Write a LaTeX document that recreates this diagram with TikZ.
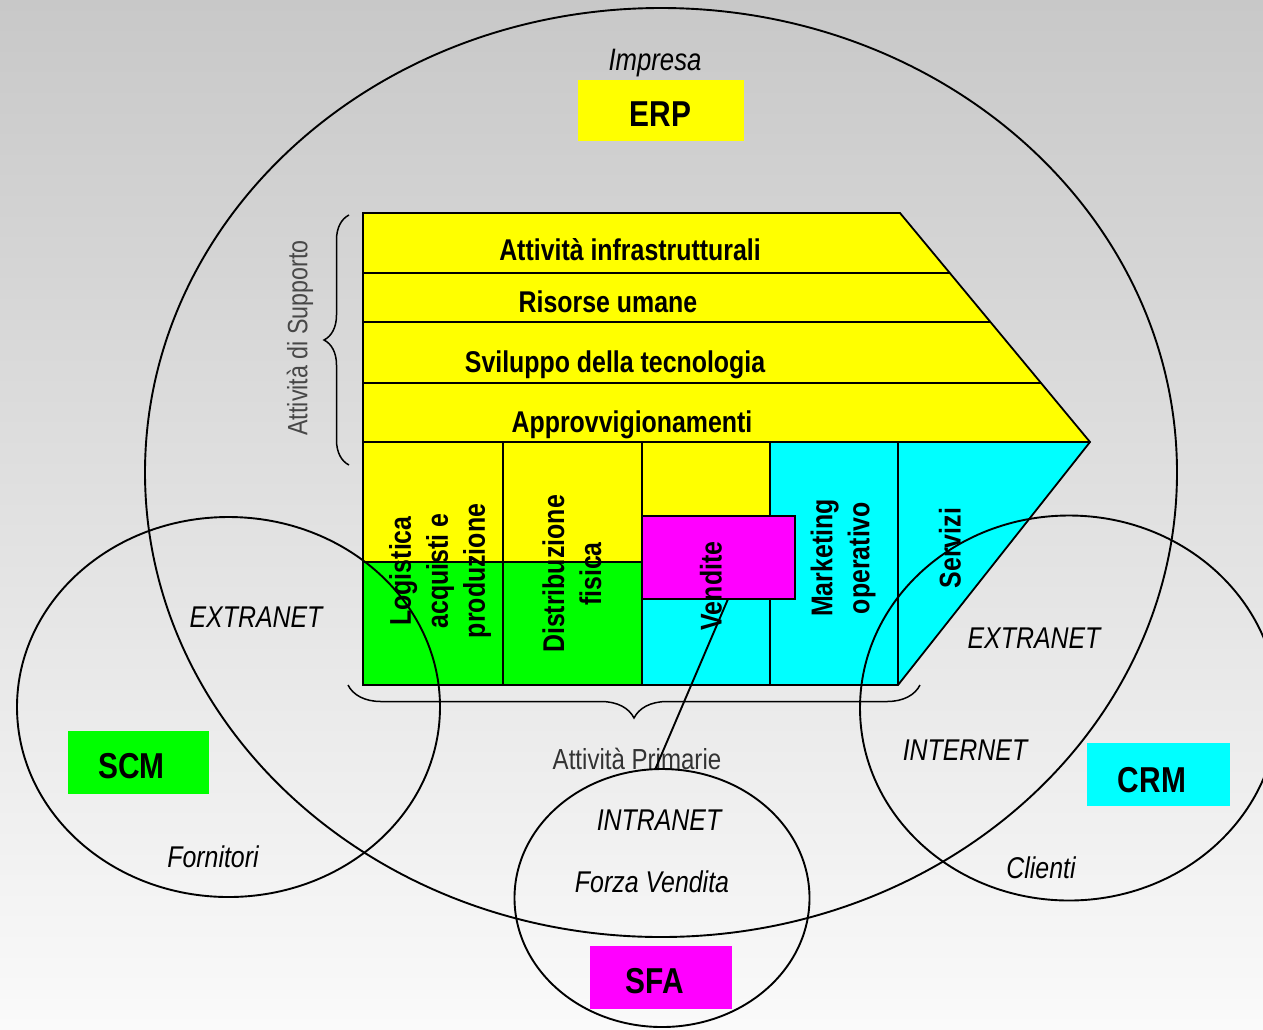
\documentclass[tikz,border=0pt]{standalone}
\usepackage{fontspec}
\setmainfont[FakeStretch=0.83]{Liberation Sans}
\usetikzlibrary{shapes.geometric,decorations.pathreplacing,calc}
\definecolor{bgtop}{RGB}{200,200,200}
\definecolor{bgbot}{RGB}{250,250,250}
\definecolor{vyellow}{RGB}{255,255,0}
\definecolor{vcyan}{RGB}{0,255,255}
\definecolor{vmagenta}{RGB}{255,0,255}
\definecolor{vgreen}{RGB}{0,255,0}

\begin{document}
\begin{tikzpicture}[x=1pt,y=-1pt,
  cell/.style={draw=black,line width=1.8pt,line join=miter},
  ring/.style={draw=black,line width=1.9pt,ellipse,inner sep=0pt,outer sep=0pt},
  link/.style={draw=black,line width=1.9pt},
  rowlabel/.style={font=\fontsize{30}{36}\selectfont\bfseries,anchor=base,inner sep=0pt},
  collabel/.style={font=\fontsize{30}{37}\selectfont\bfseries,rotate=90,align=center,inner sep=0pt},
  netlabel/.style={font=\fontsize{30}{36}\selectfont\itshape,anchor=base,inner sep=0pt},
  sysbox/.style={inner sep=0pt,outer sep=0pt},
  systext/.style={font=\fontsize{36}{40}\selectfont\bfseries,anchor=base,inner sep=0pt},
  groupbrace/.style={draw=black,line width=1.5pt,decorate,decoration={brace,amplitude=#1}},
  bracelabel/.style={font=\fontsize{28}{32}\selectfont,text=black!72,inner sep=0pt}
]
\useasboundingbox (0,0) rectangle (1263,1029);
\shade[top color=bgtop,bottom color=bgbot] (0,0) rectangle (1263,1029);

% ---- value chain: support activities ----
\fill[vyellow] (363,213) -- (900,213) -- (1090,442) -- (363,442) -- cycle;
% ---- value chain: primary activities ----
\fill[vyellow] (363,442) rectangle (642,562);
\fill[vgreen]  (363,562) rectangle (642,685);
\fill[vyellow] (642,442) rectangle (770,516);
\fill[vcyan]   (642,516) rectangle (770,685);
\fill[vcyan]   (770,442) -- (1090,442) -- (898,685) -- (770,685) -- cycle;

\draw[cell] (363,213) -- (900,213) -- (1090,442) -- (898,685) -- (363,685) -- cycle;
\draw[cell] (363,273) -- (950,273);
\draw[cell] (363,322) -- (990,322);
\draw[cell] (363,383) -- (1041,383);
\draw[cell] (363,442) -- (1090,442);
\draw[cell] (503,442) -- (503,685);
\draw[cell] (642,442) -- (642,685);
\draw[cell] (770,442) -- (770,685);
\draw[cell] (898,442) -- (898,685);
\draw[cell] (363,562) -- (642,562);

\node[cell,fill=vmagenta,minimum width=153pt,minimum height=83pt,inner sep=0pt,outer sep=0pt]
  (vendbox) at (718.5,557.5) {};

% ---- row labels ----
\node[rowlabel] (infra) at (630,260) {Attività infrastrutturali};
\node[rowlabel] (risorse) at (608,312) {Risorse umane};
\node[rowlabel] (svil) at (615,372) {Sviluppo della tecnologia};
\node[rowlabel] (approv) at (632,432) {Approvvigionamenti};

% ---- column labels ----
\node[collabel] (logis) at (440,571) {Logistica\\acquisti e\\produzione};
\node[collabel] (distr) at (572,574) {Distribuzione\\fisica};
\node[collabel] (vend) at (711,586) {Vendite};
\node[collabel] (mark) at (843,558) {Marketing\\operativo};
\node[collabel] (serv) at (950,548) {Servizi};

% ---- braces ----
\draw[groupbrace=25pt] (349,465) -- (349,215);
\node[bracelabel,rotate=90] (supp) at (300,338) {Attività di Supporto};
\draw[groupbrace=33pt] (920,685) -- (348,685);
\node[bracelabel,anchor=base,font=\fontsize{29}{32}\selectfont,text=black!80] (prim) at (637,769) {Attività Primarie};

% ---- system boxes ----
\node[sysbox,fill=vyellow,minimum width=166pt,minimum height=61pt] (erp) at (661,110.5) {};
\node[sysbox,fill=vgreen,minimum width=141pt,minimum height=63pt] (scm) at (138.5,762) {};
\node[sysbox,fill=vcyan,minimum width=143pt,minimum height=63pt] (crm) at (1158.5,774.5) {};
\node[sysbox,fill=vmagenta,minimum width=142pt,minimum height=63pt] (sfa) at (661,977.5) {};
\node[systext] (erpt) at (660.5,126) {ERP};
\node[systext] (scmt) at (131.5,778) {SCM};
\node[systext] (crmt) at (1152,792) {CRM};
\node[systext] (sfat) at (655,993) {SFA};

% ---- network labels ----
\node[netlabel,font=\fontsize{31}{36}\selectfont\itshape] (impresa) at (655,70) {Impresa};
\node[netlabel] (extl) at (256,627) {EXTRANET};
\node[netlabel] (extr) at (1034,648) {EXTRANET};
\node[netlabel] (inet) at (965,760) {INTERNET};
\node[netlabel] (forn) at (213,867) {Fornitori};
\node[netlabel] (clienti) at (1041,878) {Clienti};
\node[netlabel] (intra) at (659,830) {INTRANET};
\node[netlabel] (forza) at (652,892) {Forza Vendita};

% ---- enterprise, supplier, customer and sales-force areas ----
\node[ring,minimum width=1032pt,minimum height=929pt] (ent) at (661,472.5) {};
\node[ring,minimum width=423pt,minimum height=380pt] (supring) at (228.5,707) {};
\node[ring,minimum width=418pt,minimum height=385pt] (custring) at (1069,708) {};
\node[ring,minimum width=295pt,minimum height=258pt] (sfaring) at (662,898) {};

% ---- link from sales to the sales-force area ----
\coordinate (vfoot) at (728,599);
\draw[link] (vfoot) -- (sfaring.93);
\end{tikzpicture}
\end{document}
